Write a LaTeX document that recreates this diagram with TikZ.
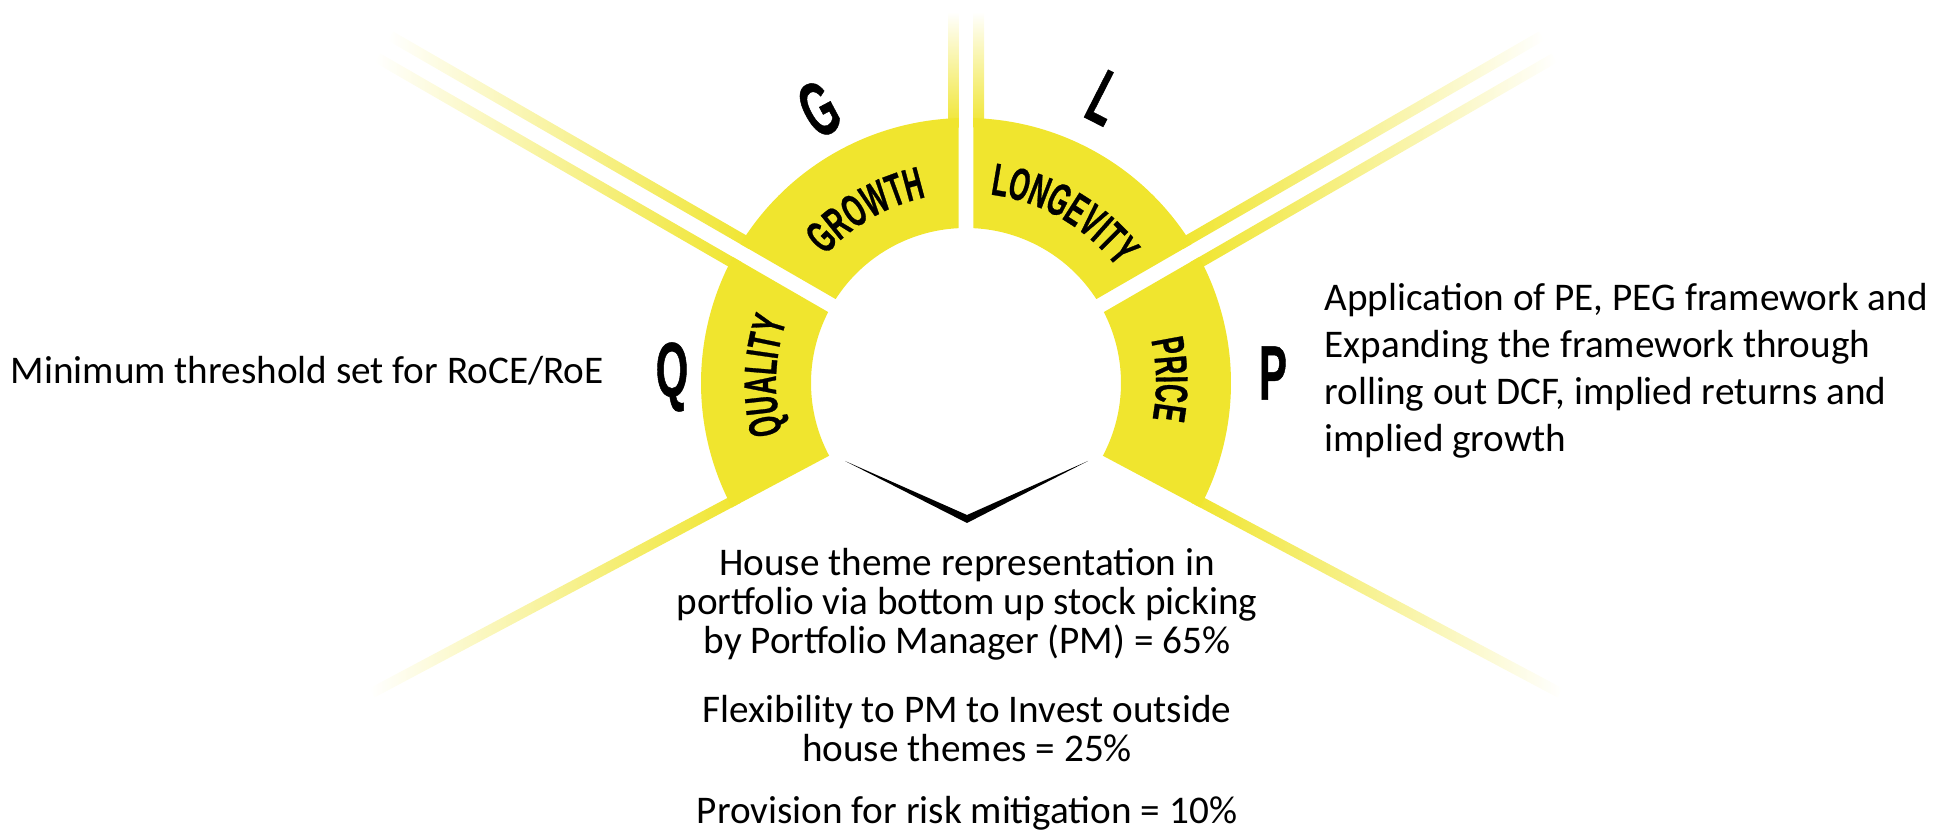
\documentclass[tikz,border=0pt]{standalone}
\usepackage{fontspec}
\setmainfont{Carlito}
\newfontfamily\condfont[FakeStretch=0.57, FakeBold=0.6]{Liberation Sans Bold}
\newfontfamily\bigcondfont[FakeStretch=0.54, FakeBold=0.6]{Liberation Sans Bold}
\newcommand\segfont{\condfont\fontsize{13}{14}\selectfont}
\usetikzlibrary{calc,decorations.text}
\definecolor{ringyellow}{RGB}{240,229,46}
\tikzset{
  bodytext/.style={font=\fontsize{11.15}{11.1}\selectfont, inner sep=0pt, align=center},
  bigletter/.style={font=\bigcondfont\fontsize{22}{23}\selectfont, inner sep=0pt},
  seglabel/.style={decorate, decoration={text along path, text align=center, text={|\segfont|#1}}}
}

\begin{document}
\begin{tikzpicture}
  \useasboundingbox (0,0) rectangle (19.39,8.32);
  \coordinate (O) at (9.66,4.49);

  % fading lines out of the ring
  \shade[top color=white, bottom color=ringyellow] (9.48,7.04) rectangle (9.585,8.20);
  \shade[top color=white, bottom color=ringyellow] (9.735,7.04) rectangle (9.84,8.20);
  \shade[left color=white, right color=ringyellow]
  ($(O)+(150:2.55)+(60:0.075)$) -- ($(O)+(150:6.72)+(60:0.075)$) --
  ($(O)+(150:6.72)+(60:0.18)$) -- ($(O)+(150:2.55)+(60:0.18)$) -- cycle;
  \shade[left color=white, right color=ringyellow]
  ($(O)+(150:2.55)+(240:0.075)$) -- ($(O)+(150:6.72)+(240:0.075)$) --
  ($(O)+(150:6.72)+(240:0.18)$) -- ($(O)+(150:2.55)+(240:0.18)$) -- cycle;
  \shade[left color=ringyellow, right color=white]
  ($(O)+(30:2.55)+(120:0.075)$) -- ($(O)+(30:6.72)+(120:0.075)$) --
  ($(O)+(30:6.72)+(120:0.18)$) -- ($(O)+(30:2.55)+(120:0.18)$) -- cycle;
  \shade[left color=ringyellow, right color=white]
  ($(O)+(30:2.55)+(-60:0.075)$) -- ($(O)+(30:6.72)+(-60:0.075)$) --
  ($(O)+(30:6.72)+(-60:0.18)$) -- ($(O)+(30:2.55)+(-60:0.18)$) -- cycle;
  \shade[left color=white, right color=ringyellow]
  ($(O)+(208:2.55)$) -- ($(O)+(208:6.7)$) --
  ($(O)+(208:6.7)+(118:0.105)$) -- ($(O)+(208:2.55)+(118:0.105)$) -- cycle;
  \shade[left color=ringyellow, right color=white]
  ($(O)+(-28:2.55)$) -- ($(O)+(-28:6.7)$) --
  ($(O)+(-28:6.7)+(62:0.105)$) -- ($(O)+(-28:2.55)+(62:0.105)$) -- cycle;

  % ring segments
  \fill[ringyellow] ($(O)+(91.62:2.65)$) arc[start angle=91.62, end angle=148.38, radius=2.65]
  -- ($(O)+(147.23:1.55)$) arc[start angle=147.23, end angle=92.77, radius=1.55] -- cycle;
  \fill[ringyellow] ($(O)+(31.62:2.65)$) arc[start angle=31.62, end angle=88.38, radius=2.65]
  -- ($(O)+(87.23:1.55)$) arc[start angle=87.23, end angle=32.77, radius=1.55] -- cycle;
  \fill[ringyellow] ($(O)+(151.62:2.65)$) arc[start angle=151.62, end angle=208, radius=2.65]
  -- ($(O)+(208:1.55)$) arc[start angle=208, end angle=152.77, radius=1.55] -- cycle;
  \fill[ringyellow] ($(O)+(-28:2.65)$) arc[start angle=-28, end angle=28.38, radius=2.65]
  -- ($(O)+(27.23:1.55)$) arc[start angle=27.23, end angle=-28, radius=1.55] -- cycle;

  % labels on the ring
  \path[seglabel=GROWTH] ($(O)+(150:1.9)$) arc[start angle=150, end angle=90, radius=1.9];
  \path[seglabel=LONGEVITY] ($(O)+(90:1.9)$) arc[start angle=90, end angle=30, radius=1.9];
  \path[seglabel=QUALITY] ($(O)+(207:1.9)$) arc[start angle=207, end angle=149, radius=1.9];
  \path[seglabel=PRICE] ($(O)+(30:1.9)$) arc[start angle=30, end angle=-28, radius=1.9];

  \node[bigletter] (q) at (6.72,4.55) {Q};
  \node[bigletter] (p) at (12.73,4.59) {P};
  \node[bigletter, rotate=28] (g) at (8.19,7.23) {G};
  \node[bigletter, rotate=-27] (l) at (11.05,7.34) {L};

  % chevron
  \fill[black] (8.45,3.71) -- (9.67,3.09) -- (10.88,3.71) -- (9.67,3.17) -- cycle;

  \node[bodytext, anchor=west] (quality) at (0.10,4.61) {Minimum threshold set for RoCE/RoE};
  \node[bodytext, anchor=west, align=left, font=\fontsize{11.15}{13.4}\selectfont]
  (price) at (13.24,4.615) {Application of PE, PEG framework and\\
    Expanding the framework through\\
    rolling out DCF, implied returns and\\
    implied growth};
  \node[bodytext] (house) at (9.67,2.28) {House theme representation in\\
    portfolio via bottom up stock picking\\
    by Portfolio Manager (PM) = 65\%};
  \node[bodytext] (flex) at (9.67,1.03) {Flexibility to PM to Invest outside\\
    house themes = 25\%};
  \node[bodytext] (risk) at (9.67,0.19) {Provision for risk mitigation = 10\%};
\end{tikzpicture}
\end{document}
